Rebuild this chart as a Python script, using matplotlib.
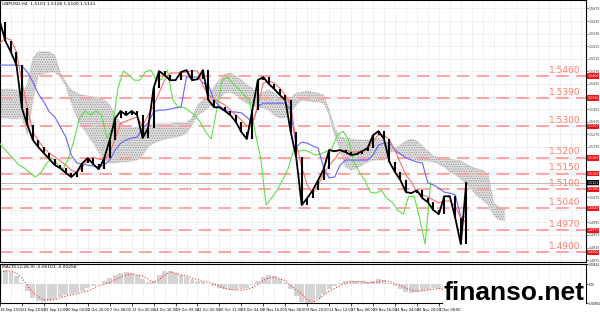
import numpy as np
import matplotlib.pyplot as plt

# GBPUSD H4, one sample every 4 bars
close = [1.5632, 1.5571, 1.5536, 1.5495, 1.5358, 1.5304, 1.5257, 1.5234, 1.5215, 1.5196,
         1.5177, 1.5167, 1.5152, 1.5139, 1.5155, 1.5183, 1.5199, 1.5180, 1.5164, 1.5199,
         1.5257, 1.5326, 1.5349, 1.5336, 1.5349, 1.5336, 1.5263, 1.5295, 1.5422, 1.5476,
         1.5463, 1.5447, 1.5447, 1.5473, 1.5479, 1.5447, 1.5450, 1.5479, 1.5384, 1.5361,
         1.5361, 1.5349, 1.5336, 1.5314, 1.5282, 1.5260, 1.5352, 1.5447, 1.5457, 1.5435,
         1.5419, 1.5400, 1.5384, 1.5282, 1.5202, 1.5050, 1.5072, 1.5097, 1.5129, 1.5164,
         1.5225, 1.5221, 1.5225, 1.5218, 1.5209, 1.5212, 1.5221, 1.5231, 1.5272, 1.5285,
         1.5260, 1.5187, 1.5155, 1.5129, 1.5091, 1.5088, 1.5097, 1.5072, 1.5059, 1.5034,
         1.5021, 1.5078, 1.5078, 1.5008, 1.4926, 1.5121]

tenkan = [1.5565, 1.5581, 1.5575, 1.5537, 1.5441, 1.5359, 1.5282, 1.5254, 1.5231, 1.5215,
          1.5203, 1.5190, 1.5177, 1.5161, 1.5152, 1.5171, 1.5193, 1.5203, 1.5196, 1.5193,
          1.5215, 1.5263, 1.5311, 1.5317, 1.5324, 1.5330, 1.5301, 1.5336, 1.5365, 1.5406,
          1.5448, 1.5470, 1.5470, 1.5470, 1.5473, 1.5476, 1.5476, 1.5429, 1.5400, 1.5387,
          1.5378, 1.5368, 1.5352, 1.5336, 1.5320, 1.5301, 1.5304, 1.5368, 1.5438, 1.5444,
          1.5438, 1.5422, 1.5400, 1.5368, 1.5247, 1.5171, 1.5114, 1.5088, 1.5114, 1.5149,
          1.5177, 1.5196, 1.5219, 1.5225, 1.5219, 1.5219, 1.5222, 1.5225, 1.5254, 1.5273,
          1.5273, 1.5257, 1.5225, 1.5184, 1.5146, 1.5123, 1.5091, 1.5082, 1.5076, 1.5066,
          1.5057, 1.5063, 1.5063, 1.5047, 1.5009, 1.4993]

kijun = [1.5495, 1.5495, 1.5495, 1.5495, 1.5492, 1.5473, 1.5441, 1.5403, 1.5378, 1.5346,
         1.5330, 1.5298, 1.5266, 1.5209, 1.5184, 1.5180, 1.5177, 1.5174, 1.5171, 1.5177,
         1.5193, 1.5225, 1.5247, 1.5257, 1.5263, 1.5266, 1.5295, 1.5311, 1.5346, 1.5352,
         1.5352, 1.5355, 1.5359, 1.5362, 1.5457, 1.5457, 1.5457, 1.5438, 1.5432, 1.5384,
         1.5365, 1.5352, 1.5346, 1.5346, 1.5343, 1.5330, 1.5311, 1.5362, 1.5374, 1.5374,
         1.5374, 1.5374, 1.5374, 1.5352, 1.5235, 1.5250, 1.5247, 1.5238, 1.5231, 1.5168,
         1.5136, 1.5139, 1.5177, 1.5193, 1.5193, 1.5193, 1.5193, 1.5193, 1.5209, 1.5241,
         1.5247, 1.5247, 1.5225, 1.5212, 1.5200, 1.5193, 1.5187, 1.5184, 1.5120, 1.5114,
         1.5104, 1.5091, 1.5088, 1.5082, 1.5012, 1.5012]

span_a = [1.5416, 1.5419, 1.5419, 1.5416, 1.5409, 1.5432, 1.5518, 1.5537, 1.5537, 1.5537,
          1.5527, 1.5470, 1.5441, 1.5416, 1.5406, 1.5400, 1.5397, 1.5394, 1.5390, 1.5384,
          1.5368, 1.5336, 1.5311, 1.5301, 1.5295, 1.5298, 1.5301, 1.5305, 1.5308, 1.5308,
          1.5308, 1.5308, 1.5311, 1.5311, 1.5311, 1.5327, 1.5368, 1.5384, 1.5400, 1.5425,
          1.5448, 1.5467, 1.5470, 1.5460, 1.5448, 1.5432, 1.5422, 1.5400, 1.5409, 1.5416,
          1.5406, 1.5390, 1.5384, 1.5390, 1.5406, 1.5409, 1.5413, 1.5409, 1.5406, 1.5400,
          1.5352, 1.5295, 1.5266, 1.5263, 1.5260, 1.5257, 1.5257, 1.5257, 1.5257, 1.5263,
          1.5257, 1.5235, 1.5231, 1.5241, 1.5254, 1.5260, 1.5254, 1.5238, 1.5222, 1.5206,
          1.5200, 1.5200, 1.5196, 1.5193, 1.5190, 1.5180, 1.5171, 1.5165, 1.5161, 1.5146,
          1.5057, 1.5044, 1.5037]

span_b = [1.5327, 1.5327, 1.5324, 1.5324, 1.5327, 1.5273, 1.5384, 1.5463, 1.5467, 1.5473,
          1.5473, 1.5457, 1.5428, 1.5374, 1.5330, 1.5298, 1.5273, 1.5247, 1.5219, 1.5193,
          1.5184, 1.5184, 1.5187, 1.5187, 1.5190, 1.5193, 1.5209, 1.5235, 1.5247, 1.5254,
          1.5260, 1.5263, 1.5266, 1.5270, 1.5279, 1.5305, 1.5336, 1.5346, 1.5359, 1.5378,
          1.5390, 1.5406, 1.5409, 1.5400, 1.5384, 1.5374, 1.5365, 1.5362, 1.5359, 1.5352,
          1.5336, 1.5327, 1.5327, 1.5346, 1.5368, 1.5384, 1.5381, 1.5378, 1.5378, 1.5374,
          1.5336, 1.5273, 1.5225, 1.5171, 1.5161, 1.5168, 1.5177, 1.5187, 1.5193, 1.5193,
          1.5193, 1.5219, 1.5219, 1.5209, 1.5203, 1.5196, 1.5193, 1.5190, 1.5190, 1.5187,
          1.5180, 1.5171, 1.5155, 1.5146, 1.5133, 1.5117, 1.5098, 1.5079, 1.5066, 1.5050,
          1.5018, 1.5002, 1.5002]

macd_hist = [0.0042, 0.0043, 0.0038, 0.0025, 0.0005, -0.0020, -0.0040, -0.0050, -0.0052, -0.0050,
             -0.0045, -0.0038, -0.0033, -0.0030, -0.0026, -0.0020, -0.0012, -0.0005, 0.0002, 0.0010,
             0.0020, 0.0030, 0.0036, 0.0037, 0.0034, 0.0028, 0.0018, 0.0008, 0.0012, 0.0030,
             0.0040, 0.0040, 0.0035, 0.0028, 0.0022, 0.0017, 0.0012, 0.0008, 0.0003, -0.0004,
             -0.0010, -0.0014, -0.0016, -0.0017, -0.0015, -0.0010, -0.0002, 0.0012, 0.0024, 0.0028,
             0.0026, 0.0018, 0.0005, -0.0015, -0.0035, -0.0052, -0.0056, -0.0054, -0.0045, -0.0030,
             -0.0015, -0.0005, 0.0005, 0.0010, 0.0012, 0.0011, 0.0010, 0.0009, 0.0012, 0.0016,
             0.0014, 0.0005, -0.0005, -0.0015, -0.0022, -0.0025, -0.0024, -0.0020, -0.0016, -0.0012,
             -0.0014, -0.0018, -0.0020, -0.0016, -0.0012, -0.0010]

macd_signal = [0.0038, 0.0041, 0.0041, 0.0035, 0.0020, -0.0003, -0.0026, -0.0038, -0.0046, -0.0046,
               -0.0046, -0.0041, -0.0035, -0.0032, -0.0029, -0.0023, -0.0020, -0.0012, -0.0003, 0.0000,
               0.0006, 0.0015, 0.0023, 0.0029, 0.0032, 0.0029, 0.0026, 0.0017, 0.0006, 0.0015,
               0.0029, 0.0038, 0.0035, 0.0029, 0.0026, 0.0020, 0.0015, 0.0009, 0.0006, 0.0003,
               -0.0006, -0.0012, -0.0015, -0.0017, -0.0017, -0.0015, -0.0009, 0.0000, 0.0012, 0.0020,
               0.0023, 0.0017, 0.0012, -0.0003, -0.0017, -0.0029, -0.0046, -0.0055, -0.0046, -0.0032,
               -0.0020, -0.0012, -0.0003, 0.0003, 0.0009, 0.0009, 0.0009, 0.0006, 0.0006, 0.0009,
               0.0012, 0.0009, 0.0003, -0.0003, -0.0012, -0.0017, -0.0020, -0.0020, -0.0017, -0.0015,
               -0.0012, -0.0015, -0.0017, -0.0015, -0.0012, -0.0012]

levels = [1.5460, 1.5390, 1.5300, 1.5200, 1.5150, 1.5100, 1.5040, 1.4970, 1.4900]
price_ticks = [1.5675, 1.5635, 1.5595, 1.5555, 1.5515, 1.5475, 1.5435, 1.5395, 1.5355, 1.5315,
               1.5275, 1.5235, 1.5195, 1.5155, 1.5115, 1.5075, 1.5035, 1.4995, 1.4955, 1.4915, 1.4875]
date_labels = ['18 Sep 2015', '22 Sep 20:00', '25 Sep 12:00', '30 Sep 04:00', '2 Oct 20:00',
               '7 Oct 08:00', '12 Oct 00:00', '14 Oct 16:00', '19 Oct 08:00', '22 Oct 00:00',
               '26 Oct 12:00', '29 Oct 04:00', '2 Nov 16:00', '5 Nov 08:00', '9 Nov 20:00',
               '12 Nov 12:00', '17 Nov 00:00', '19 Nov 16:00', '24 Nov 04:00', '26 Nov 20:00',
               '1 Dec 08:00']
last_price = 1.5121

step = 4      # bars per sample
shift = 26    # ichimoku displacement
x = np.arange(len(close)) * step
xc = np.arange(len(span_a)) * step

plt.rcParams['hatch.linewidth'] = 0.4
fig = plt.figure(figsize=(6, 3.12), dpi=100)
ax = fig.add_axes([0, 0.1603, 0.976, 0.8397])
am = fig.add_axes([0, 0.0288, 0.976, 0.125], sharex=ax)

grid_kw = dict(color='#c8c8c8', lw=0.5, linestyle=(0, (1, 2)))
for a in (ax, am):
    for gx in np.arange(0, 430, 8):
        a.axvline(gx, zorder=0, **grid_kw)
for p in price_ticks:
    ax.axhline(p, zorder=0, **grid_kw)

# cloud
ax.fill_between(xc, span_a, span_b, facecolor='#dcdcdc', hatch='.......',
                edgecolor='#8c8c8c', linewidth=0, zorder=1)
ax.plot(xc, span_a, color='#999999', lw=0.5, ls=':', zorder=1)
ax.plot(xc, span_b, color='#999999', lw=0.5, ls=':', zorder=1)

# levels
for lv in levels:
    ax.axhline(lv, color='#ff9c9c', lw=1.3, dashes=(7, 4), zorder=2)
    ax.text(0.991, lv + 0.0005, f'{lv:.4f}', transform=ax.get_yaxis_transform(),
            ha='right', va='bottom', fontsize=6.5, color='#ff7b6b', zorder=6)
    ax.annotate(f'{lv:.4f}', xy=(1.003, lv), xycoords=ax.get_yaxis_transform(),
                fontsize=2.3, color='white', va='center', ha='left', annotation_clip=False,
                bbox=dict(boxstyle='square,pad=0.2', fc='#ee1111', ec='none'))
ax.axhline(last_price, color='#b0b0b0', lw=0.6, zorder=2)
ax.annotate(f'{last_price:.4f}', xy=(1.003, last_price), xycoords=ax.get_yaxis_transform(),
            fontsize=2.3, color='white', va='center', ha='left', annotation_clip=False,
            bbox=dict(boxstyle='square,pad=0.2', fc='black', ec='none'))

# ichimoku lines
ax.plot(x - shift, close, color='#5ee04a', lw=0.8, zorder=3)
ax.plot(x, kijun, color='#6464ff', lw=0.8, zorder=3)
ax.plot(x, tenkan, color='#ff6a6a', lw=0.8, zorder=3)

# price
ax.plot(x, close, color='black', lw=1.3, zorder=4)
ax.vlines(x[1:], close[:-1], close[1:], color='black', lw=1.5, zorder=4)

ax.set_xlim(0, 427)
ax.set_ylim(1.4869, 1.5702)
ax.yaxis.tick_right()
ax.set_yticks(price_ticks)
ax.set_yticklabels([f'{p:.4f}' for p in price_ticks])
ax.tick_params(axis='y', labelsize=2.3, length=1.5, width=0.5, pad=0.6, colors='#333333')
ax.tick_params(axis='x', bottom=False, labelbottom=False)
ax.text(0.004, 0.992, 'GBPUSD,H4  1.5101 1.5128 1.5100 1.5121', transform=ax.transAxes,
        fontsize=3.2, va='top', ha='left')

# MACD
am.bar(x, macd_hist, width=3.6, color='#d4d4d4', zorder=1)
am.plot(x, macd_signal, color='#ff3030', lw=0.8, ls=':', zorder=2)
am.set_ylim(-0.00564, 0.00624)
am.yaxis.tick_right()
am.set_yticks([-0.00564, 0, 0.00624])
am.set_yticklabels(['-0.00564', '0.00', '0.00624'])
am.tick_params(axis='y', labelsize=2.0, length=1.5, width=0.5, pad=0.6)
am.set_xticks(np.arange(len(date_labels)) * 16)
am.set_xticklabels(date_labels)
am.tick_params(axis='x', labelsize=2.5, length=2, width=0.5, pad=1.5)
for t in am.get_xticklabels():
    t.set_ha('left')
am.text(0.004, 0.97, 'MACD(12,26,9) -0.00101 -0.00258', transform=am.transAxes,
        fontsize=3.2, va='top', ha='left')

for a in (ax, am):
    for s in a.spines.values():
        s.set_linewidth(0.8)

fig.text(0.975, 0.04, 'finanso.net', ha='right', va='baseline', fontsize=19,
         fontweight='bold', family='Liberation Sans', color='black',
         bbox=dict(fc='white', ec='none', pad=1))

fig.savefig('out.png', dpi=100)
